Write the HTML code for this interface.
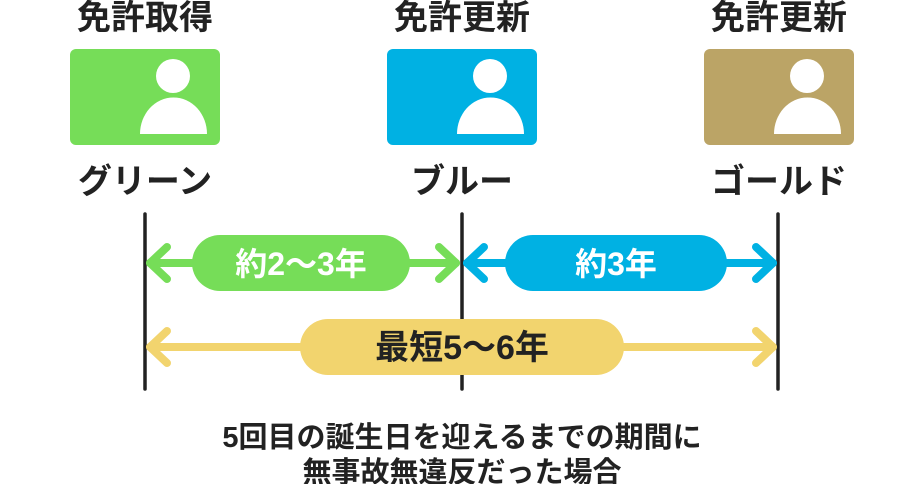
<!DOCTYPE html>
<html><head><meta charset="utf-8"><style>
html,body{margin:0;padding:0;background:#fff;}
svg{display:block;}
text{font-family:"Liberation Sans","Noto Sans CJK JP",sans-serif;font-weight:bold;}
</style></head><body>
<svg width="921" height="484" viewBox="0 0 921 484" xmlns="http://www.w3.org/2000/svg">
<g fill="#222" font-size="34" text-anchor="middle">
<text x="145" y="29">免許取得</text>
<text x="462" y="29">免許更新</text>
<text x="779" y="29">免許更新</text>
<text x="145" y="193">グリーン</text>
<text x="462" y="193">ブルー</text>
<text x="779" y="193">ゴールド</text>
</g>
<rect x="70" y="49" width="150" height="96" rx="6" fill="#76DD58"/>
<rect x="387" y="49" width="150" height="96" rx="6" fill="#00B1E3"/>
<rect x="704" y="49" width="150" height="96" rx="6" fill="#BBA466"/>
<g fill="#fff">
<circle cx="173" cy="76" r="17"/><path d="M140 134 A33 36 0 0 1 207 134 Z"/>
<circle cx="490" cy="76" r="17"/><path d="M457 134 A33 36 0 0 1 524 134 Z"/>
<circle cx="807" cy="76" r="17"/><path d="M774 134 A33 36 0 0 1 841 134 Z"/>
</g>
<g stroke="#222" stroke-width="3.5" stroke-linecap="round">
<line x1="145" y1="214" x2="145" y2="389"/>
<line x1="462" y1="214" x2="462" y2="389"/>
<line x1="778" y1="214" x2="778" y2="389"/>
</g>
<g fill="none" stroke-width="8" stroke-linecap="round" stroke-linejoin="round">
<g stroke="#76DD58"><line x1="150" y1="263" x2="456" y2="263"/><polyline points="167,247 150,263 167,279"/><polyline points="439,247 456,263 439,279"/></g>
<g stroke="#00B1E3"><line x1="467" y1="263" x2="773" y2="263"/><polyline points="484,247 467,263 484,279"/><polyline points="756,247 773,263 756,279"/></g>
<g stroke="#F2D46E"><line x1="150" y1="347" x2="773" y2="347"/><polyline points="167,331 150,347 167,363"/><polyline points="756,331 773,347 756,363"/></g>
</g>
<rect x="192" y="235" width="218" height="56" rx="28" fill="#76DD58"/>
<rect x="505" y="235" width="222" height="56" rx="28" fill="#00B1E3"/>
<rect x="300" y="319" width="324" height="56" rx="28" fill="#F2D46E"/>
<g font-size="32" text-anchor="middle">
<text x="301" y="275" fill="#fff">約2〜3年</text>
<text x="616" y="275" fill="#fff">約3年</text>
<text x="462" y="359" fill="#222" font-size="34">最短5〜6年</text>
</g>
<g fill="#222" font-size="29" text-anchor="middle">
<text x="462" y="447">5回目の誕生日を迎えるまでの期間に</text>
<text x="462" y="482">無事故無違反だった場合</text>
</g>
</svg>
</body></html>
